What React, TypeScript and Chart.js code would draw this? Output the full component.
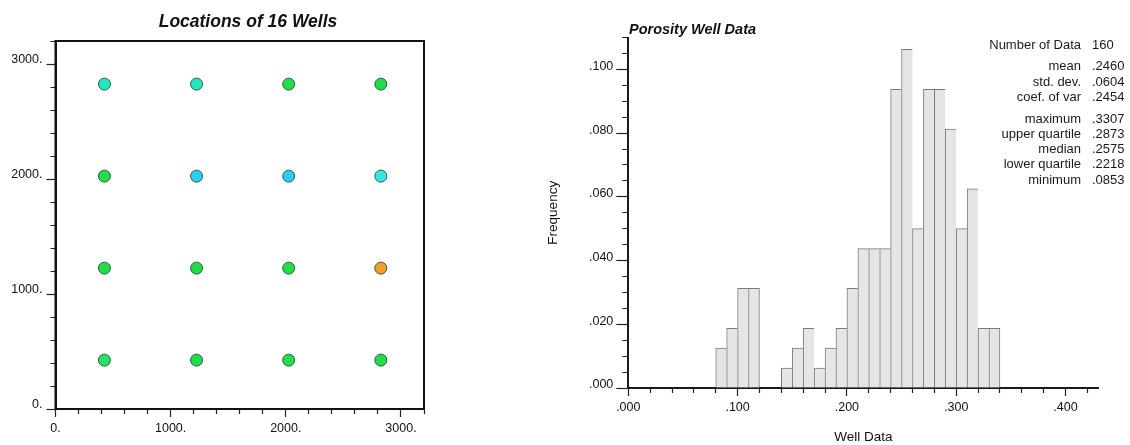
import React, { useEffect, useRef } from 'react';
import { Chart, registerables } from 'chart.js';

Chart.register(...registerables);

const FONT = '"Liberation Sans", Arial, Helvetica, sans-serif';
const INK = '#111111';

// ---- Well locations (scatter map) ----
const wellX = [425, 1225, 2025, 2825, 425, 1225, 2025, 2825, 425, 1225, 2025, 2825, 425, 1225, 2025, 2825];
const wellY = [2825, 2825, 2825, 2825, 2025, 2025, 2025, 2025, 1225, 1225, 1225, 1225, 425, 425, 425, 425];
const wellColors = [
  '#22e8c2', '#22e8c2', '#22dc48', '#22dc48',
  '#22dc48', '#2ccdf2', '#2ccdf2', '#3ae6e4',
  '#22dc48', '#22dc48', '#22dc48', '#f3a020',
  '#2ce066', '#22dc48', '#22dc48', '#22dc48',
];
const locTickValues = [0, 1000, 2000, 3000];
const locTickLabels = ['0.', '1000.', '2000.', '3000.'];

// ---- Porosity histogram ----
const binLows = [
  0.08, 0.09, 0.10, 0.11,
  0.14, 0.15, 0.16, 0.17, 0.18, 0.19,
  0.20, 0.21, 0.22, 0.23, 0.24, 0.25, 0.26, 0.27, 0.28, 0.29,
  0.30, 0.31, 0.32, 0.33,
];
const binFreqs = [
  0.0125, 0.01875, 0.03125, 0.03125,
  0.00625, 0.0125, 0.01875, 0.00625, 0.0125, 0.01875,
  0.03125, 0.04375, 0.04375, 0.04375, 0.09375, 0.10625, 0.05, 0.09375, 0.09375, 0.08125,
  0.05, 0.0625, 0.01875, 0.01875,
];
const BIN_WIDTH = 0.01;
const freqTickValues = [0, 0.02, 0.04, 0.06, 0.08, 0.1];
const freqTickLabels = ['.000', '.020', '.040', '.060', '.080', '.100'];
const poroTickValues = [0, 0.1, 0.2, 0.3, 0.4];
const poroTickLabels = ['.000', '.100', '.200', '.300', '.400'];

// summary statistics block (groups are separated by a small gap)
const statGroups: string[][][] = [
  [['Number of Data', '160']],
  [['mean', '.2460'], ['std. dev.', '.0604'], ['coef. of var', '.2454']],
  [['maximum', '.3307'], ['upper quartile', '.2873'], ['median', '.2575'], ['lower quartile', '.2218'], ['minimum', '.0853']],
];

function labelFor(values: number[], labels: string[], v: number): string {
  for (let i = 0; i < values.length; i++) {
    if (Math.abs(values[i] - v) < 1e-7) return labels[i];
  }
  return '';
}

function isMajor(values: number[], v: number): boolean {
  return values.some((m) => Math.abs(m - v) < 1e-7);
}

// Minor ticks are shortened with a dash pattern. Left-axis tick lines are
// stroked from the outer end toward the axis, bottom-axis ones from the axis out.
function minorDash(pos: 'bottom' | 'left', tickLen: number, minorLen: number): number[] {
  return pos === 'left' ? [0, tickLen - minorLen, minorLen, 200] : [minorLen, 200];
}

function WellMap() {
  const ref = useRef<HTMLCanvasElement | null>(null);
  useEffect(() => {
    if (!ref.current) return;
    const titlePlugin = {
      id: 'mapTitle',
      afterDraw(chart: any) {
        const { ctx, chartArea } = chart;
        ctx.save();
        // plot frame
        ctx.strokeStyle = INK;
        ctx.lineWidth = 2;
        ctx.strokeRect(chartArea.left, chartArea.top, chartArea.right - chartArea.left, chartArea.bottom - chartArea.top);
        // heading
        ctx.fillStyle = INK;
        ctx.font = `italic bold 17.5px ${FONT}`;
        ctx.textAlign = 'center';
        ctx.textBaseline = 'middle';
        ctx.fillText('Locations of 16 Wells', 248, 22);
        ctx.restore();
      },
    };
    const axis = (pos: 'bottom' | 'left', size: number, tickLen: number, minorLen: number) => ({
      type: 'linear' as const,
      position: pos,
      min: 0,
      max: 3200,
      afterFit: (s: any) => {
        if (pos === 'bottom') s.height = size;
        else s.width = size;
      },
      ticks: {
        stepSize: 200,
        autoSkip: false,
        includeBounds: false,
        maxRotation: 0,
        minRotation: 0,
        padding: pos === 'bottom' ? 4 : 4,
        labelOffset: pos === 'left' ? -4 : 0,
        color: INK,
        font: { family: FONT, size: 12.5 },
        callback: (v: any) => labelFor(locTickValues, locTickLabels, Number(v)),
      },
      grid: {
        drawOnChartArea: false,
        drawTicks: true,
        tickLength: tickLen,
        tickColor: '#222',
        tickWidth: 1.2,
        tickBorderDash: (c: any) => (isMajor(locTickValues, c.tick.value) ? [] : minorDash(pos, tickLen, minorLen)),
      },
      border: { display: true, color: INK, width: 2 },
    });
    const chart = new Chart(ref.current, {
      type: 'scatter',
      data: {
        datasets: [
          {
            data: wellX.map((x, i) => ({ x, y: wellY[i] })),
            pointRadius: 6,
            pointBackgroundColor: wellColors,
            pointBorderColor: '#2d5c47',
            pointBorderWidth: 1,
          },
        ],
      },
      options: {
        responsive: false,
        animation: false,
        devicePixelRatio: 1,
        layout: { padding: { left: 0, top: 41, right: 76, bottom: 0 } },
        plugins: { legend: { display: false }, tooltip: { enabled: false }, title: { display: false } },
        scales: {
          x: axis('bottom', 36, 8, 4),
          y: axis('left', 55.5, 9, 5),
        },
      },
      plugins: [titlePlugin],
    });
    return () => chart.destroy();
  }, []);
  return <canvas ref={ref} width={500} height={445} style={{ display: 'block' }} />;
}

function PorosityHistogram() {
  const ref = useRef<HTMLCanvasElement | null>(null);
  useEffect(() => {
    if (!ref.current) return;
    const textPlugin = {
      id: 'histText',
      afterDraw(chart: any) {
        const { ctx } = chart;
        ctx.save();
        ctx.fillStyle = INK;
        ctx.font = `italic bold 14.5px ${FONT}`;
        ctx.textAlign = 'left';
        ctx.textBaseline = 'middle';
        ctx.fillText('Porosity Well Data', 99, 30);
        // statistics
        ctx.font = `13px ${FONT}`;
        ctx.fillStyle = '#1a1a1a';
        let y = 45;
        statGroups.forEach((group, gi) => {
          if (gi > 0) y += 6.4;
          group.forEach(([label, value]) => {
            ctx.textAlign = 'right';
            ctx.fillText(label, 551, y);
            ctx.textAlign = 'left';
            ctx.fillText(value, 562, y);
            y += 15.3;
          });
        });
        ctx.restore();
      },
    };
    const lastInRun = (i: number) =>
      i === binLows.length - 1 || Math.abs(binLows[i + 1] - binLows[i] - BIN_WIDTH) > 1e-6;
    const chart = new Chart(ref.current, {
      type: 'bar',
      data: {
        datasets: [
          {
            data: binLows.map((lo, i) => ({ x: lo + BIN_WIDTH / 2, y: binFreqs[i] })),
            backgroundColor: '#e5e5e5',
            borderColor: '#7c7c7c',
            borderWidth: (c: any) => ({ top: 1, left: 1, bottom: 0, right: lastInRun(c.dataIndex) ? 1 : 0 }),
            borderSkipped: 'start',
            barPercentage: 1,
            categoryPercentage: 1,
            grouped: false,
          } as any,
        ],
      },
      options: {
        responsive: false,
        animation: false,
        devicePixelRatio: 1,
        layout: { padding: { left: 0, top: 37.5, right: 31.7, bottom: 0 } },
        plugins: { legend: { display: false }, tooltip: { enabled: false }, title: { display: false } },
        scales: {
          x: {
            type: 'linear',
            position: 'bottom',
            min: 0,
            max: 0.43,
            offset: false,
            afterFit: (s: any) => {
              s.height = 57;
            },
            title: {
              display: true,
              text: 'Well Data',
              color: INK,
              font: { family: FONT, size: 13.5 },
              padding: { top: 0, bottom: 0 },
            },
            ticks: {
              stepSize: 0.02,
              autoSkip: false,
              includeBounds: false,
              maxRotation: 0,
              minRotation: 0,
              padding: 4,
              color: INK,
              font: { family: FONT, size: 12.5 },
              callback: (v: any) => labelFor(poroTickValues, poroTickLabels, Number(v)),
            },
            grid: {
              offset: false,
              drawOnChartArea: false,
              drawTicks: true,
              tickLength: 8,
              tickColor: '#222',
              tickWidth: 1.2,
              tickBorderDash: (c: any) => (isMajor(poroTickValues, c.tick.value) ? [] : minorDash('bottom', 8, 4)),
            },
            border: { display: true, color: '#1a1a1a', width: 2 },
          },
          y: {
            type: 'linear',
            position: 'left',
            min: 0,
            max: 0.11,
            afterFit: (s: any) => {
              s.width = 98.3;
            },
            title: {
              display: true,
              text: 'Frequency',
              color: INK,
              font: { family: FONT, size: 13.5 },
              padding: { top: 15, bottom: 0 },
            },
            ticks: {
              stepSize: 0.005,
              autoSkip: false,
              includeBounds: false,
              padding: 3,
              labelOffset: -3,
              color: INK,
              font: { family: FONT, size: 12.5 },
              callback: (v: any) => labelFor(freqTickValues, freqTickLabels, Number(v)),
            },
            grid: {
              drawOnChartArea: false,
              drawTicks: true,
              tickLength: 12,
              tickColor: '#222',
              tickWidth: 1.2,
              tickBorderDash: (c: any) => (isMajor(freqTickValues, c.tick.value) ? [] : minorDash('left', 12, 6)),
            },
            border: { display: true, color: '#1a1a1a', width: 2 },
          },
        },
      },
      plugins: [textPlugin],
    });
    return () => chart.destroy();
  }, []);
  return <canvas ref={ref} width={600} height={445} style={{ display: 'block' }} />;
}

export default function App() {
  return (
    <div style={{ position: 'absolute', left: 0, top: 0, width: 1130, height: 445, background: '#ffffff', overflow: 'hidden' }}>
      <div style={{ position: 'absolute', left: 0, top: 0 }}>
        <WellMap />
      </div>
      <div style={{ position: 'absolute', left: 530, top: 0 }}>
        <PorosityHistogram />
      </div>
    </div>
  );
}
